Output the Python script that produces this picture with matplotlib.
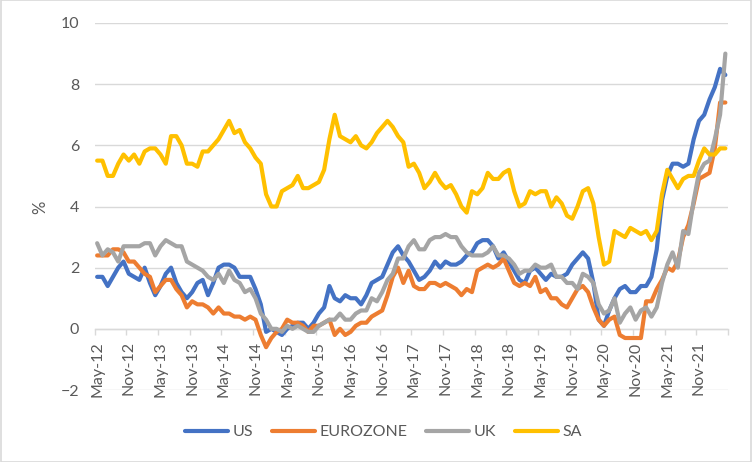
import matplotlib
matplotlib.use("Agg")
import matplotlib.pyplot as plt
from matplotlib.patches import Rectangle
import numpy as np

# Monthly inflation (% y/y), May-12 .. Apr-22
us = [1.7, 1.7, 1.4, 1.7, 2.0, 2.2, 1.8, 1.7,
      1.6, 2.0, 1.5, 1.1, 1.4, 1.8, 2.0, 1.5, 1.2, 1.0, 1.2, 1.5,
      1.6, 1.1, 1.5, 2.0, 2.1, 2.1, 2.0, 1.7, 1.7, 1.7, 1.3, 0.8,
      -0.1, 0.0, -0.1, -0.2, 0.0, 0.1, 0.2, 0.2, 0.0, 0.2, 0.5, 0.7,
      1.4, 1.0, 0.9, 1.1, 1.0, 1.0, 0.8, 1.1, 1.5, 1.6, 1.7, 2.1,
      2.5, 2.7, 2.4, 2.2, 1.9, 1.6, 1.7, 1.9, 2.2, 2.0, 2.2, 2.1,
      2.1, 2.2, 2.4, 2.5, 2.8, 2.9, 2.9, 2.7, 2.3, 2.5, 2.2, 1.9,
      1.6, 1.5, 1.9, 2.0, 1.8, 1.6, 1.8, 1.7, 1.7, 1.8, 2.1, 2.3,
      2.5, 2.3, 1.5, 0.3, 0.1, 0.6, 1.0, 1.3, 1.4, 1.2, 1.2, 1.4,
      1.4, 1.7, 2.6, 4.2, 5.0, 5.4, 5.4, 5.3, 5.4, 6.2, 6.8, 7.0,
      7.5, 7.9, 8.5, 8.3]

eurozone = [2.4, 2.4, 2.4, 2.6, 2.6, 2.5, 2.2, 2.2,
            2.0, 1.8, 1.7, 1.2, 1.4, 1.6, 1.6, 1.3, 1.1, 0.7, 0.9, 0.8,
            0.8, 0.7, 0.5, 0.7, 0.5, 0.5, 0.4, 0.4, 0.3, 0.4, 0.3, -0.2,
            -0.6, -0.3, -0.1, 0.0, 0.3, 0.2, 0.2, 0.1, -0.1, 0.1, 0.1, 0.2,
            0.3, -0.2, 0.0, -0.2, -0.1, 0.1, 0.2, 0.2, 0.4, 0.5, 0.6, 1.1,
            1.7, 2.0, 1.5, 1.9, 1.4, 1.3, 1.3, 1.5, 1.5, 1.4, 1.5, 1.4,
            1.3, 1.1, 1.3, 1.2, 1.9, 2.0, 2.1, 2.0, 2.1, 2.3, 1.9, 1.5,
            1.4, 1.5, 1.4, 1.7, 1.2, 1.3, 1.0, 1.0, 0.8, 0.7, 1.0, 1.3,
            1.4, 1.2, 0.7, 0.3, 0.1, 0.3, 0.4, -0.2, -0.3, -0.3, -0.3, -0.3,
            0.9, 0.9, 1.3, 1.6, 2.0, 1.9, 2.2, 3.0, 3.4, 4.1, 4.9, 5.0,
            5.1, 5.9, 7.4, 7.4]

uk = [2.8, 2.4, 2.6, 2.5, 2.2, 2.7, 2.7, 2.7,
      2.7, 2.8, 2.8, 2.4, 2.7, 2.9, 2.8, 2.7, 2.7, 2.2, 2.1, 2.0,
      1.9, 1.7, 1.6, 1.8, 1.5, 1.9, 1.6, 1.5, 1.2, 1.3, 1.0, 0.5,
      0.3, 0.0, 0.0, -0.1, 0.1, 0.0, 0.1, 0.0, -0.1, -0.1, 0.1, 0.2,
      0.3, 0.3, 0.5, 0.3, 0.3, 0.5, 0.6, 0.6, 1.0, 0.9, 1.2, 1.6,
      1.8, 2.3, 2.3, 2.7, 2.9, 2.6, 2.6, 2.9, 3.0, 3.0, 3.1, 3.0,
      3.0, 2.7, 2.5, 2.4, 2.4, 2.4, 2.5, 2.7, 2.4, 2.4, 2.3, 2.1,
      1.8, 1.9, 1.9, 2.1, 2.0, 2.0, 2.1, 1.7, 1.7, 1.5, 1.5, 1.3,
      1.8, 1.7, 1.5, 0.8, 0.5, 0.6, 1.0, 0.2, 0.5, 0.7, 0.3, 0.6,
      0.7, 0.4, 0.7, 1.5, 2.1, 2.5, 2.0, 3.2, 3.1, 4.2, 5.1, 5.4,
      5.5, 6.2, 7.0, 9.0]

sa = [5.5, 5.5, 5.0, 5.0, 5.4, 5.7, 5.5, 5.7,
      5.4, 5.8, 5.9, 5.9, 5.7, 5.4, 6.3, 6.3, 6.0, 5.4, 5.4, 5.3,
      5.8, 5.8, 6.0, 6.2, 6.5, 6.8, 6.4, 6.5, 6.1, 5.9, 5.6, 5.4,
      4.4, 4.0, 4.0, 4.5, 4.6, 4.7, 5.0, 4.6, 4.6, 4.7, 4.8, 5.2,
      6.2, 7.0, 6.3, 6.2, 6.1, 6.3, 6.0, 5.9, 6.1, 6.4, 6.6, 6.8,
      6.6, 6.3, 6.1, 5.3, 5.4, 5.1, 4.6, 4.8, 5.1, 4.8, 4.6, 4.7,
      4.4, 4.0, 3.8, 4.5, 4.4, 4.6, 5.1, 4.9, 4.9, 5.1, 5.2, 4.5,
      4.0, 4.1, 4.5, 4.4, 4.5, 4.5, 4.0, 4.3, 4.1, 3.7, 3.6, 4.0,
      4.5, 4.6, 4.1, 3.0, 2.1, 2.2, 3.2, 3.1, 3.0, 3.3, 3.2, 3.1,
      3.2, 2.9, 3.2, 4.4, 5.2, 4.9, 4.6, 4.9, 5.0, 5.0, 5.5, 5.9,
      5.7, 5.7, 5.9, 5.9]

tick_labels = ["May-12", "Nov-12", "May-13", "Nov-13", "May-14", "Nov-14",
               "May-15", "Nov-15", "May-16", "Nov-16", "May-17", "Nov-17",
               "May-18", "Nov-18", "May-19", "Nov-19", "May-20", "Nov-20",
               "May-21", "Nov-21"]

series_names = ["US", "EUROZONE", "UK", "SA"]
series_colors = ["#4472C4", "#ED7D31", "#A5A5A5", "#FFC000"]

plt.rcParams['font.family'] = ['Lato', 'DejaVu Sans']
TXT = '#595959'
GRID = '#D9D9D9'

fig = plt.figure(figsize=(7.52, 4.62), dpi=100)
ax = fig.add_axes([94.5 / 752, 1 - 390 / 462, (728 - 94.5) / 752, (390 - 23) / 462])

x = np.arange(len(us)) + 0.5
for vals, name, col in zip([us, eurozone, uk, sa], series_names, series_colors):
    ax.plot(x, vals, color=col, lw=3.0, label=name,
            solid_joinstyle='round', solid_capstyle='round', zorder=3)

ax.set_xlim(0, 120)
ax.set_ylim(-2, 10)
ax.set_yticks(range(-2, 11, 2))
ax.yaxis.grid(True, color=GRID, lw=1.0)
ax.set_axisbelow(True)

for s in ['top', 'right', 'left']:
    ax.spines[s].set_visible(False)
ax.spines['bottom'].set_position(('data', 0))
ax.spines['bottom'].set_color(GRID)
ax.spines['bottom'].set_linewidth(1.0)
ax.spines['bottom'].set_zorder(2)

ax.set_xticks(np.arange(0, 121, 6))
ax.set_xticklabels([])
ax.set_xticks(np.arange(0, 120, 6) + 0.5, minor=True)
ax.set_xticklabels(tick_labels, minor=True, rotation=90, va='top', ha='center')
ax.tick_params(axis='x', which='major', length=4.5, width=1.0, color=GRID, direction='out')
ax.tick_params(axis='x', which='minor', length=0, pad=9.0, labelsize=11.5, labelcolor=TXT)
ax.tick_params(axis='y', length=0, pad=11, labelsize=11.5, labelcolor=TXT)

fig.text(40 / 752, 1 - 207 / 462, '%', rotation=90, ha='center', va='center',
         fontsize=12, color=TXT)

leg = ax.legend(loc='center', bbox_to_anchor=(0.51, 1 - 432 / 462),
                bbox_transform=fig.transFigure, ncol=4, frameon=False,
                handlelength=2.7, handletextpad=0.25, columnspacing=1.2,
                fontsize=11.5, labelcolor=TXT)
for ln in leg.get_lines():
    ln.set_linewidth(3.0)
    ln.set_solid_capstyle('round')

fig.patches.append(Rectangle((0.0007, 0.001), 0.9986, 0.998, transform=fig.transFigure,
                             fill=False, edgecolor=GRID, lw=1.2))

fig.savefig('out.png', dpi=100)
